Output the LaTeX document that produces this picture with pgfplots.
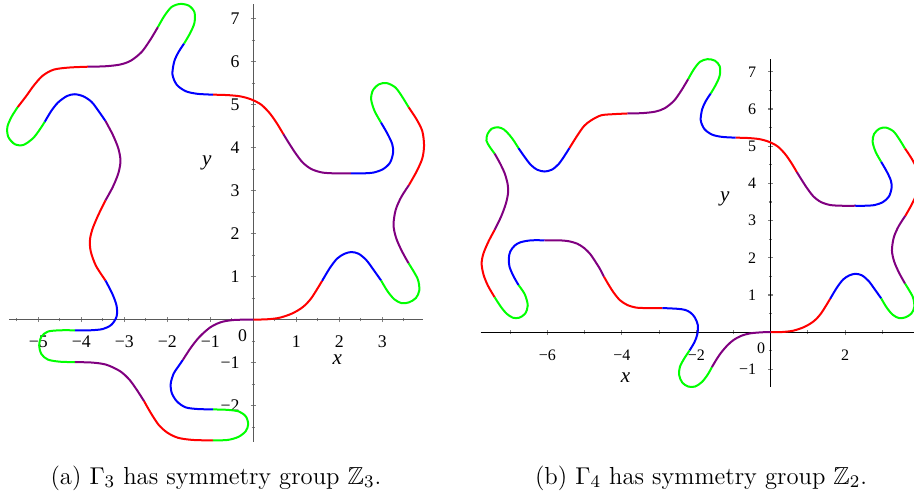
\documentclass[border=0pt]{standalone}
\usepackage{pgfplots}
\pgfplotsset{compat=1.18}
\usepackage{amssymb}
\usepackage{fontspec}
\newfontfamily\tfont{Liberation Serif}

\definecolor{cred}{RGB}{255,0,0}
\definecolor{cblue}{RGB}{0,0,255}
\definecolor{cgreen}{RGB}{0,255,0}
\definecolor{cpurple}{RGB}{128,0,128}

% 1 px of the reference = 0.45pt
\pgfplotsset{
  maple/.style={
    axis lines=middle,
    axis line style={-, line width=0.6pt},
    enlargelimits=false, clip=false, anchor=origin,
    tick align=center,
    major tick length=2.4pt, minor tick length=1.6pt,
    tick style={line width=0.5pt},
    every axis plot/.append style={line width=0.9pt, smooth, tension=0.5},
  },
}
\tikzset{lab/.style={font=\tfont\itshape\fontsize{9.5}{10}\selectfont}}

\begin{document}
\begin{tikzpicture}
\useasboundingbox (0,0) rectangle (411.3pt,222.3pt);
\clip (0,0) rectangle (411.3pt,222.3pt);

%%%% (a) Gamma_3
\begin{axis}[maple,
    at={(114pt,78.5pt)},
    x=19.35pt, y=19.35pt,
    xmin=-5.68, xmax=3.95, ymin=-2.84, ymax=7.35,
    axis line style={black!65},
    tick label style={font=\tfont\fontsize{8}{9}\selectfont},
    xtick={-5,-4,-3,-2,-1,1,2,3},
    xticklabels={−5,−4,−3,−2,−1,1,2,3},
    minor xtick={-5.5,-4.5,-3.5,-2.5,-1.5,-0.5,0.5,1.5,2.5,3.5},
    ytick={-2,-1,1,2,3,4,5,6,7},
    yticklabels={−2,−1,1,2,3,4,5,6,7},
    minor ytick={-2.5,-1.5,-0.5,0.5,1.5,2.5,3.5,4.5,5.5,6.5},
    xticklabel style={yshift=-2.5pt},
    yticklabel style={xshift=-1.5pt},
]
\addplot[cred] coordinates {(0,0) (0.3,0.005) (0.6,0.04) (0.9,0.14) (1.15,0.29) (1.35,0.5) (1.6,0.9)};
\addplot[cblue] coordinates {(1.6,0.9) (1.78,1.2) (1.95,1.42) (2.12,1.53) (2.28,1.57) (2.45,1.53) (2.63,1.38) (2.8,1.15) (2.97,0.91)};
\addplot[cgreen] coordinates {(2.97,0.91) (3.12,0.66) (3.28,0.47) (3.45,0.38) (3.62,0.4) (3.78,0.5) (3.86,0.68) (3.82,0.95) (3.61,1.31)};
\addplot[cpurple] coordinates {(3.61,1.31) (3.45,1.6) (3.32,1.9) (3.26,2.2) (3.31,2.55) (3.44,2.85) (3.62,3.13)};
\addplot[cred] coordinates {(3.62,3.13) (3.8,3.45) (3.93,3.75) (3.97,4.05) (3.93,4.38) (3.8,4.65) (3.61,4.94)};
\addplot[cgreen] coordinates {(3.61,4.94) (3.45,5.2) (3.3,5.4) (3.1,5.5) (2.92,5.47) (2.78,5.33) (2.74,5.12) (2.82,4.85) (2.97,4.58)};
\addplot[cblue] coordinates {(2.97,4.58) (3.12,4.32) (3.23,4.08) (3.25,3.88) (3.18,3.65) (3.02,3.5) (2.8,3.42) (2.55,3.4) (2.27,3.4)};
\addplot[cpurple] coordinates {(2.27,3.4) (1.9,3.4) (1.6,3.42) (1.35,3.5) (1.15,3.65) (0.98,3.87) (0.83,4.1) (0.7,4.31)};
\addplot[cred] coordinates {(0.7,4.31) (0.55,4.56) (0.38,4.8) (0.18,5.0) (-0.05,5.12) (-0.3,5.19) (-0.6,5.22) (-0.94,5.23)};
\addplot[cblue] coordinates {(-0.94,5.23) (-1.3,5.25) (-1.57,5.31) (-1.78,5.46) (-1.88,5.7) (-1.84,6.0) (-1.74,6.22) (-1.61,6.42)};
\addplot[cgreen] coordinates {(-1.61,6.42) (-1.47,6.66) (-1.37,6.9) (-1.37,7.15) (-1.5,7.3) (-1.7,7.34) (-1.9,7.27) (-2.07,7.06) (-2.22,6.8)};
\addplot[cpurple] coordinates {(-2.22,6.8) (-2.4,6.5) (-2.6,6.22) (-2.85,6.02) (-3.1,5.93) (-3.45,5.89) (-3.85,5.88)};
\addplot[cred] coordinates {(-3.85,5.88) (-4.3,5.86) (-4.65,5.81) (-4.9,5.67) (-5.1,5.45) (-5.28,5.2) (-5.48,4.94)};
\addplot[cgreen] coordinates {(-5.48,4.94) (-5.62,4.72) (-5.72,4.48) (-5.7,4.25) (-5.55,4.08) (-5.35,4.06) (-5.13,4.21) (-4.98,4.4) (-4.85,4.6)};
\addplot[cblue] coordinates {(-4.85,4.6) (-4.7,4.85) (-4.54,5.05) (-4.33,5.2) (-4.15,5.24) (-3.95,5.19) (-3.76,5.06) (-3.6,4.85) (-3.44,4.62)};
\addplot[cpurple] coordinates {(-3.44,4.62) (-3.27,4.3) (-3.14,3.98) (-3.09,3.69) (-3.14,3.4) (-3.27,3.08) (-3.44,2.77)};
\addplot[cred] coordinates {(-3.44,2.77) (-3.62,2.4) (-3.75,2.08) (-3.8,1.84) (-3.78,1.58) (-3.66,1.25) (-3.44,0.91)};
\addplot[cblue] coordinates {(-3.44,0.91) (-3.28,0.6) (-3.18,0.32) (-3.18,0.07) (-3.3,-0.12) (-3.5,-0.22) (-3.8,-0.25) (-4.15,-0.25)};
\addplot[cgreen] coordinates {(-4.15,-0.25) (-4.5,-0.25) (-4.78,-0.28) (-4.93,-0.4) (-4.98,-0.6) (-4.93,-0.8) (-4.78,-0.93) (-4.5,-0.98) (-4.15,-0.99)};
\addplot[cpurple] coordinates {(-4.15,-0.99) (-3.75,-1.0) (-3.42,-1.05) (-3.1,-1.2) (-2.88,-1.4) (-2.7,-1.65) (-2.54,-1.9)};
\addplot[cred] coordinates {(-2.54,-1.9) (-2.38,-2.18) (-2.2,-2.45) (-2.0,-2.63) (-1.75,-2.75) (-1.4,-2.8) (-0.94,-2.81)};
\addplot[cgreen] coordinates {(-0.94,-2.81) (-0.6,-2.8) (-0.35,-2.73) (-0.18,-2.6) (-0.12,-2.44) (-0.17,-2.26) (-0.33,-2.14) (-0.6,-2.1) (-0.94,-2.09)};
\addplot[cblue] coordinates {(-0.94,-2.09) (-1.3,-2.08) (-1.58,-2.04) (-1.78,-1.9) (-1.9,-1.7) (-1.92,-1.48) (-1.85,-1.25) (-1.75,-1.1) (-1.64,-0.94)};
\addplot[cpurple] coordinates {(-1.64,-0.94) (-1.45,-0.65) (-1.25,-0.4) (-1.0,-0.18) (-0.75,-0.06) (-0.45,-0.01) (0,0)};

\node[font=\tfont\fontsize{8}{9}\selectfont] at (-0.25,-0.38) {0};
\node[lab] at (1.95,-0.94) {x};
\node[lab] at (-1.08,3.64) {y};
\end{axis}

%%%% (b) Gamma_4
\begin{axis}[maple,
    at={(346.8pt,72.8pt)},
    x=16.74pt, y=16.74pt,
    xmin=-7.8, xmax=4.0, ymin=-1.46, ymax=7.35,
    axis line style={black},
    tick label style={font=\tfont\fontsize{7.2}{8}\selectfont},
    xtick={-6,-4,-2,2},
    xticklabels={−6,−4,−2,2},
    minor xtick={-7,-5,-3,-1,1,3},
    ytick={-1,1,2,3,4,5,6,7},
    yticklabels={−1,1,2,3,4,5,6,7},
    minor ytick={-0.5,0.5,1.5,2.5,3.5,4.5,5.5,6.5},
    xticklabel style={yshift=-3.3pt},
    yticklabel style={xshift=-1.8pt},
]
\addplot[cred] coordinates {(0,0) (0.3,0.005) (0.6,0.04) (0.9,0.14) (1.15,0.29) (1.35,0.5) (1.6,0.9)};
\addplot[cblue] coordinates {(1.6,0.9) (1.78,1.2) (1.95,1.42) (2.12,1.53) (2.28,1.57) (2.45,1.53) (2.63,1.38) (2.8,1.15) (2.97,0.91)};
\addplot[cgreen] coordinates {(2.97,0.91) (3.12,0.66) (3.28,0.47) (3.45,0.38) (3.62,0.4) (3.78,0.5) (3.86,0.68) (3.82,0.95) (3.61,1.31)};
\addplot[cpurple] coordinates {(3.61,1.31) (3.45,1.6) (3.32,1.9) (3.26,2.2) (3.31,2.55) (3.44,2.85) (3.62,3.13)};
\addplot[cred] coordinates {(3.62,3.13) (3.8,3.45) (3.93,3.75) (3.97,4.05) (3.93,4.38) (3.8,4.65) (3.61,4.94)};
\addplot[cgreen] coordinates {(3.61,4.94) (3.45,5.2) (3.3,5.4) (3.1,5.5) (2.92,5.47) (2.78,5.33) (2.74,5.12) (2.82,4.85) (2.97,4.58)};
\addplot[cblue] coordinates {(2.97,4.58) (3.12,4.32) (3.23,4.08) (3.25,3.88) (3.18,3.65) (3.02,3.5) (2.8,3.42) (2.55,3.4) (2.27,3.4)};
\addplot[cpurple] coordinates {(2.27,3.4) (1.9,3.4) (1.6,3.42) (1.35,3.5) (1.15,3.65) (0.98,3.87) (0.83,4.1) (0.7,4.31)};
\addplot[cred] coordinates {(0.7,4.31) (0.55,4.56) (0.38,4.8) (0.18,5.0) (-0.05,5.12) (-0.3,5.19) (-0.6,5.22) (-0.94,5.23)};
\addplot[cblue] coordinates {(-0.94,5.23) (-1.3,5.25) (-1.57,5.31) (-1.78,5.46) (-1.88,5.7) (-1.84,6.0) (-1.74,6.22) (-1.61,6.42)};
\addplot[cgreen] coordinates {(-1.61,6.42) (-1.47,6.66) (-1.37,6.9) (-1.37,7.15) (-1.5,7.3) (-1.7,7.34) (-1.9,7.27) (-2.07,7.06) (-2.22,6.8)};
\addplot[cpurple] coordinates {(-2.22,6.8) (-2.4,6.5) (-2.6,6.22) (-2.85,6.02) (-3.1,5.93) (-3.45,5.89) (-3.85,5.88)};
\addplot[cred] coordinates {(-3.85,5.88) (-4.25,5.86) (-4.56,5.83) (-4.82,5.7) (-5.01,5.55) (-5.19,5.3) (-5.41,4.95)};
\addplot[cblue] coordinates {(-5.41,4.95) (-5.55,4.73) (-5.7,4.52) (-5.88,4.37) (-6.08,4.32) (-6.28,4.37) (-6.45,4.5) (-6.62,4.72) (-6.78,4.95)};
\addplot[cgreen] coordinates {(-6.78,4.95) (-6.9,5.14) (-7.02,5.3) (-7.17,5.45) (-7.33,5.51) (-7.5,5.47) (-7.61,5.33) (-7.64,5.15) (-7.55,4.98) (-7.42,4.8)};
\addplot[cpurple] coordinates {(-7.42,4.8) (-7.28,4.55) (-7.15,4.27) (-7.07,3.98) (-7.06,3.74) (-7.12,3.45) (-7.25,3.1) (-7.42,2.75)};
\addplot[cred] coordinates {(-7.42,2.75) (-7.58,2.45) (-7.72,2.12) (-7.77,1.85) (-7.72,1.55) (-7.6,1.25) (-7.42,0.94)};
\addplot[cgreen] coordinates {(-7.42,0.94) (-7.25,0.68) (-7.1,0.5) (-6.93,0.39) (-6.76,0.39) (-6.6,0.5) (-6.53,0.72) (-6.61,1.02) (-6.78,1.27)};
\addplot[cblue] coordinates {(-6.78,1.27) (-6.92,1.52) (-7.02,1.76) (-7.04,1.98) (-7.0,2.17) (-6.88,2.33) (-6.72,2.42) (-6.44,2.47) (-6.08,2.47)};
\addplot[cpurple] coordinates {(-6.08,2.47) (-5.7,2.47) (-5.45,2.45) (-5.2,2.38) (-5.01,2.26) (-4.85,2.1) (-4.74,1.94) (-4.6,1.72) (-4.48,1.49)};
\addplot[cred] coordinates {(-4.48,1.49) (-4.34,1.25) (-4.21,1.05) (-4.05,0.86) (-3.85,0.73) (-3.6,0.66) (-3.3,0.65) (-2.91,0.65)};
\addplot[cblue] coordinates {(-2.91,0.65) (-2.51,0.63) (-2.3,0.6) (-2.16,0.53) (-2.04,0.4) (-1.96,0.2) (-1.97,-0.05) (-2.05,-0.27) (-2.18,-0.49)};
\addplot[cgreen] coordinates {(-2.18,-0.49) (-2.32,-0.7) (-2.44,-0.93) (-2.46,-1.15) (-2.38,-1.35) (-2.22,-1.46) (-2.03,-1.46) (-1.85,-1.34) (-1.7,-1.15) (-1.58,-0.94)};
\addplot[cpurple] coordinates {(-1.58,-0.94) (-1.45,-0.72) (-1.31,-0.52) (-1.15,-0.34) (-1.0,-0.21) (-0.8,-0.1) (-0.55,-0.03) (-0.2,0) (0,0)};

\node[font=\tfont\fontsize{7.2}{8}\selectfont] at (-0.26,-0.42) {0};
\node[lab] at (-3.9,-1.22) {x};
\node[lab] at (-1.23,3.58) {y};
\end{axis}

\node[font=\fontsize{11.1}{13}\selectfont] at (97.2pt,7.2pt) {(a) $\Gamma_3$ has symmetry group $\mathbb{Z}_3$.};
\node[font=\fontsize{11.1}{13}\selectfont] at (315.5pt,7.2pt) {(b) $\Gamma_4$ has symmetry group $\mathbb{Z}_2$.};
\end{tikzpicture}
\end{document}
